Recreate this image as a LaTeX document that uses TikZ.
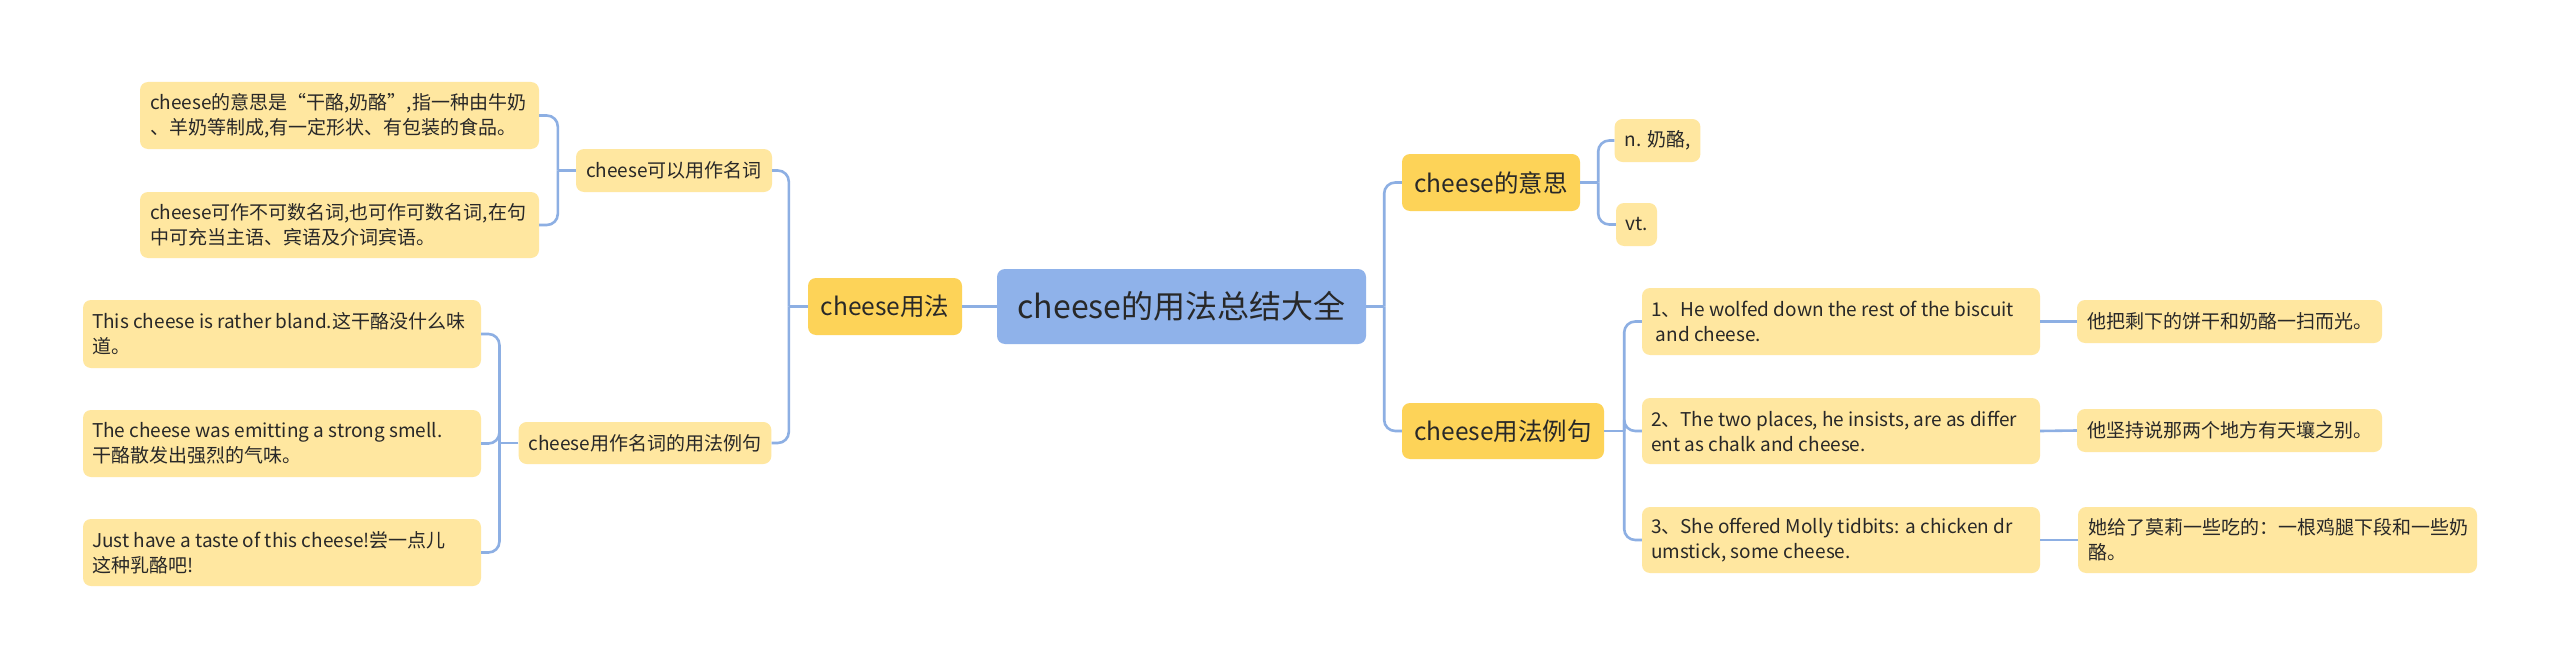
\documentclass[tikz,border=0pt]{standalone}
\usepackage{fontspec}
\setmainfont{Noto Sans CJK SC}
\usetikzlibrary{calc}
\definecolor{linec}{RGB}{141,175,227}
\definecolor{rootc}{RGB}{143,178,234}
\definecolor{brc}{RGB}{253,211,88}
\definecolor{leafc}{RGB}{255,231,160}
\definecolor{txt}{RGB}{40,40,40}
\newcommand\ml[1]{\mbox{#1}}
\tikzset{
  box/.style={rounded corners=8pt, inner xsep=10pt, inner ysep=0pt, align=center, text=txt},
  rootbox/.style={box, fill=rootc, font=\fontsize{32}{38}\selectfont},
  brbox/.style={box, fill=brc, font=\fontsize{24.5}{30}\selectfont},
  leafbox/.style={box, fill=leafc, font=\fontsize{19}{25}\selectfont},
  mlbox/.style={leafbox, align=flush left},
  conn/.style={draw=linec, line width=2.6pt},
  rc/.style={rounded corners=11pt}
}
\begin{document}
\begin{tikzpicture}[x=1pt,y=-1pt]
\useasboundingbox[fill=white] (0,0) rectangle (2560,669);
% root
\node[rootbox, minimum width=369pt, minimum height=75pt] (root) at (1181.5,306.5) {cheese的用法总结大全};
% left side
\node[brbox, minimum width=154pt, minimum height=57pt] (b1) at (885,306.5) {cheese用法};
\node[leafbox, minimum width=196pt, minimum height=43pt] (n1) at (674,170.5) {cheese可以用作名词};
\node[leafbox, minimum width=252pt, minimum height=42pt] (n2) at (645,443) {cheese用作名词的用法例句};
\node[mlbox, text width=379pt, minimum height=67pt] (a1) at (339.5,115.5) {\ml{cheese的意思是“干酪,奶酪”,指一种由牛奶}\\\ml{、羊奶等制成,有一定形状、有包装的食品。}};
\node[mlbox, text width=379pt, minimum height=66pt] (a2) at (339.5,225) {\ml{cheese可作不可数名词,也可作可数名词,在句}\\\ml{中可充当主语、宾语及介词宾语。}};
\node[mlbox, text width=380pt, minimum height=68pt, inner xsep=9pt] (e1) at (282,334) {\ml{This cheese is rather bland.这干酪没什么味}\\\ml{道。}};
\node[mlbox, text width=380pt, minimum height=67pt, inner xsep=9pt] (e2) at (282,443.5) {\ml{The cheese was emitting a strong smell.}\\\ml{干酪散发出强烈的气味。}};
\node[mlbox, text width=380pt, minimum height=67pt, inner xsep=9pt] (e3) at (282,552.5) {\ml{Just have a taste of this cheese!尝一点儿}\\\ml{这种乳酪吧!}};
% right side
\node[brbox, minimum width=178pt, minimum height=57pt] (b2) at (1491,182.5) {cheese的意思};
\node[leafbox, minimum width=83pt, minimum height=43pt] (m1) at (1657.5,140.5) {n. 奶酪,};
\node[leafbox, minimum width=41pt, minimum height=43pt, inner xsep=6pt] (m2) at (1636.5,224.5) {vt.};
\node[brbox, minimum width=202pt, minimum height=56pt] (b3) at (1503,431) {cheese用法例句};
\node[mlbox, text width=380pt, minimum height=67pt, inner xsep=9pt] (s1) at (1841,321.5) {\ml{1、He wolfed down the rest of the biscuit}\\\ml{\hspace{0.25em}and cheese.}};
\node[mlbox, text width=380pt, minimum height=66pt, inner xsep=9pt] (s2) at (1841,431) {\ml{2、The two places, he insists, are as differ}\\\ml{ent as chalk and cheese.}};
\node[mlbox, text width=380pt, minimum height=66pt, inner xsep=9pt] (s3) at (1841,540) {\ml{3、She offered Molly tidbits: a chicken dr}\\\ml{umstick, some cheese.}};
\node[leafbox, minimum width=303pt, minimum height=43pt] (t1) at (2229.5,321.5) {他把剩下的饼干和奶酪一扫而光。};
\node[leafbox, minimum width=303pt, minimum height=43pt] (t2) at (2229.5,430.5) {他坚持说那两个地方有天壤之别。};
\node[mlbox, text width=379pt, minimum height=66pt] (t3) at (2277.5,540) {\ml{她给了莫莉一些吃的：一根鸡腿下段和一些奶}\\\ml{酪。}};
% connectors
\coordinate (jR) at ($(root.east)+(18,0)$);
\draw[conn] (root.east) -- (jR);
\draw[conn, rc] (jR) |- (b2.west);
\draw[conn, rc] (jR) |- (b3.west);
\coordinate (jM) at ($(b2.east)+(18,0)$);
\draw[conn] (b2.east) -- (jM);
\draw[conn, rc] (jM) |- (m1.west);
\draw[conn, rc] (jM) |- (m2.west);
\coordinate (jS) at ($(b3.east)+(20,0)$);
\draw[conn] (b3.east) -- (jS);
\draw[conn, rc] (jS) |- (s1.west);
\draw[conn, rc] (jS) |- (s2.west);
\draw[conn, rc] (jS) |- (s3.west);
\draw[conn] (s1.east) -- (t1.west);
\draw[conn] (s2.east) -- (t2.west);
\draw[conn] (s3.east) -- (t3.west);
\draw[conn] (root.west) -- (b1.east);
\coordinate (jL) at ($(b1.west)+(-19,0)$);
\draw[conn] (b1.west) -- (jL);
\draw[conn, rc] (jL) |- (n1.east);
\draw[conn, rc] (jL) |- (n2.east);
\coordinate (jN1) at ($(n1.west)+(-18,0)$);
\draw[conn] (n1.west) -- (jN1);
\draw[conn, rc] (jN1) |- (a1.east);
\draw[conn, rc] (jN1) |- (a2.east);
\coordinate (jN2) at ($(n2.west)+(-19,0)$);
\draw[conn] (n2.west) -- (jN2);
\draw[conn, rc] (jN2) |- (e1.east);
\draw[conn, rc] (jN2) |- (e2.east);
\draw[conn, rc] (jN2) |- (e3.east);
\end{tikzpicture}
\end{document}
